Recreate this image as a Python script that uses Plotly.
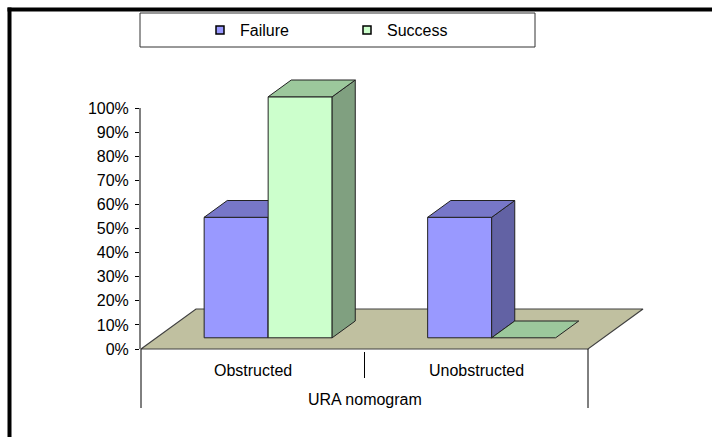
import plotly.graph_objects as go

# ---------------- data ----------------
categories = ["Obstructed", "Unobstructed"]
group_label = "URA nomogram"
series_names = ["Failure", "Success"]
failure = [0.50, 0.50]
success = [1.00, 0.00]
y_ticks = [i / 10 for i in range(11)]

# ---------------- styling / layout constants ----------------
W, H = 712, 437
AX_L, AX_R, AX_B, AX_T = 141, 588, 349, 108   # pixel frame of the value/category axes
FONT = "Liberation Sans, Arial, sans-serif"
FS = 16

front_cols = ["#9999FF", "#CCFFCC"]
top_cols = ["#7777C8", "#9CC89C"]
side_cols = ["#6262A4", "#80A080"]
floor_col = "#C0C0A0"

# unit conversions (category index units / fraction units)
px_per_x = (AX_R - AX_L) / 2.0
px_per_y = (AX_B - AX_T) / 1.0
x_lo = -0.5 - AX_L / px_per_x
x_hi = -0.5 + (W - AX_L) / px_per_x
y_lo = -(H - AX_B) / px_per_y
y_hi = AX_B / px_per_y

DEPTH_X = 55 / px_per_x    # floor depth (3-D oblique projection)
DEPTH_Y = 40 / px_per_y
F0, F1 = 0.28, 0.70         # bar front/back depth fractions
BAR_W = 64 / px_per_x

CAT_LABEL_Y = -21 / px_per_y
GROUP_LABEL_Y = -50 / px_per_y
INNER_DIV = (-3 / px_per_y, -29 / px_per_y)
OUTER_DIV = (0, -59 / px_per_y)

fig = go.Figure()


def poly(xs, ys, fill, line="#222222", lw=1):
    fig.add_trace(go.Scatter(
        x=xs + [xs[0]], y=ys + [ys[0]], mode="lines", fill="toself",
        fillcolor=fill, line=dict(color=line, width=lw),
        hoverinfo="skip", showlegend=False, xaxis="x", yaxis="y"))


# floor
x0, x1 = -0.5, len(categories) - 0.5
poly([x0, x1, x1 + DEPTH_X, x0 + DEPTH_X], [0, 0, DEPTH_Y, DEPTH_Y], floor_col, "#404040", 1.2)

# bars
sx0, sy0 = F0 * DEPTH_X, F0 * DEPTH_Y
sx1, sy1 = F1 * DEPTH_X, F1 * DEPTH_Y
values = [failure, success]
for ci, cat in enumerate(categories):
    for si, vals in enumerate(values):
        v = vals[ci]
        a = ci - BAR_W + si * BAR_W
        b = a + BAR_W
        if v > 0:
            poly([a + sx0, b + sx0, b + sx0, a + sx0], [sy0, sy0, v + sy0, v + sy0], front_cols[si])
            poly([b + sx0, b + sx1, b + sx1, b + sx0], [sy0, sy1, v + sy1, v + sy0], side_cols[si])
        poly([a + sx0, b + sx0, b + sx1, a + sx1], [v + sy0, v + sy0, v + sy1, v + sy1], top_cols[si])

# legend entries (boxes)
for si, name in enumerate(series_names):
    fig.add_trace(go.Scatter(
        x=[None], y=[None], mode="markers", name=name,
        marker=dict(symbol="square", size=8, color=front_cols[si], line=dict(color="black", width=1.5)),
        xaxis="x", yaxis="y"))

# invisible trace on the value axis subplot
fig.add_trace(go.Scatter(x=[None], y=[None], mode="markers", showlegend=False,
                         hoverinfo="skip", xaxis="x2", yaxis="y2"))

# category axis labels and dividers (Excel-style multi-level)
annotations = []
shapes = []
for ci, cat in enumerate(categories):
    annotations.append(dict(x=ci, y=CAT_LABEL_Y, xref="x", yref="y", text=cat, showarrow=False,
                            xanchor="center", yanchor="middle",
                            font=dict(family=FONT, size=FS, color="black")))
annotations.append(dict(x=(len(categories) - 1) / 2, y=GROUP_LABEL_Y, xref="x", yref="y",
                        text=group_label, showarrow=False, xanchor="center", yanchor="middle",
                        font=dict(family=FONT, size=FS, color="black")))
for k in range(len(categories) + 1):
    xe = k - 0.5
    ya, yb = (OUTER_DIV if k in (0, len(categories)) else INNER_DIV)
    shapes.append(dict(type="line", xref="x", yref="y", x0=xe, x1=xe, y0=ya, y1=yb,
                       line=dict(color="black", width=1)))

shapes += [
    dict(type="rect", xref="paper", yref="paper", x0=140 / W, x1=535 / W,
         y0=1 - 47 / H, y1=1 - 13 / H, line=dict(color="#333333", width=1)),
    dict(type="line", xref="paper", yref="paper", x0=9.5 / W, x1=9.5 / W, y0=0, y1=1 - 7.5 / H,
         line=dict(color="black", width=4)),
    dict(type="line", xref="paper", yref="paper", x0=7.5 / W, x1=1, y0=1 - 9.5 / H, y1=1 - 9.5 / H,
         line=dict(color="black", width=4)),
]

fig.update_layout(
    width=W, height=H, margin=dict(l=0, r=0, t=0, b=0, pad=0, autoexpand=False),
    paper_bgcolor="white", plot_bgcolor="rgba(0,0,0,0)",
    font=dict(family=FONT, size=FS, color="black"),
    xaxis=dict(range=[x_lo, x_hi], domain=[0, 1], visible=False, fixedrange=True),
    yaxis=dict(range=[y_lo, y_hi], domain=[0, 1], visible=False, fixedrange=True),
    xaxis2=dict(domain=[AX_L / W, AX_R / W], anchor="y2", range=[-0.5, 1.5],
                visible=False, fixedrange=True),
    yaxis2=dict(domain=[(H - AX_B) / H, (H - AX_T) / H], anchor="x2", range=[0, 1],
                tickvals=y_ticks, tickformat=".0%", showgrid=False, zeroline=False,
                showline=True, linecolor="#808080", linewidth=2,
                ticks="outside", ticklen=4, tickcolor="black", ticklabelstandoff=3,
                tickfont=dict(family=FONT, size=FS, color="black"), fixedrange=True),
    showlegend=True,
    legend=dict(orientation="h", x=(240 - 40) / W, xanchor="left", y=1 - 30 / H, yanchor="middle",
                bgcolor="rgba(0,0,0,0)", font=dict(family=FONT, size=FS),
                itemwidth=30, entrywidth=102, traceorder="normal"),
    annotations=annotations,
    shapes=shapes,
)

fig.write_html("out.html")
